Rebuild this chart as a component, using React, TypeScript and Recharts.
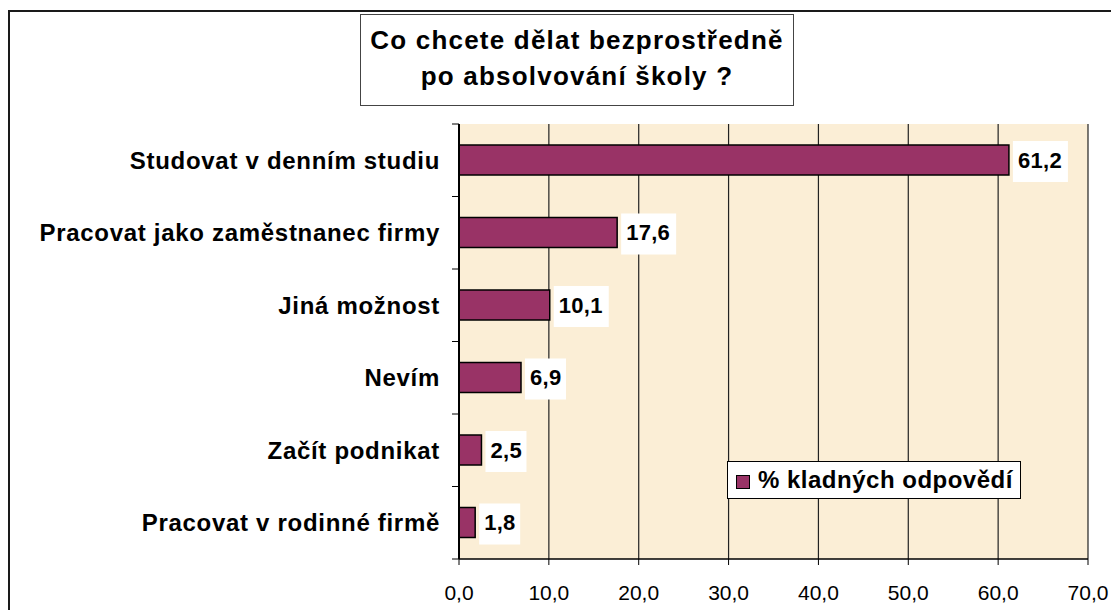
import React from 'react';
import { BarChart, Bar, XAxis, YAxis, CartesianGrid, LabelList, Legend } from 'recharts';

const categories = [
  'Studovat v denním studiu',
  'Pracovat jako zaměstnanec firmy',
  'Jiná možnost',
  'Nevím',
  'Začít podnikat',
  'Pracovat v rodinné firmě',
];
const percentValues = [61.2, 17.6, 10.1, 6.9, 2.5, 1.8];
const xTicks = [0, 10, 20, 30, 40, 50, 60, 70];
const seriesName = '% kladných odpovědí';
const titleLines = ['Co chcete dělat bezprostředně', 'po absolvování školy ?'];

const FONT = '"Liberation Sans", Arial, sans-serif';
const BAR_COLOR = '#993366';

const data = categories.map((name, i) => ({ name, value: percentValues[i] }));

const fmt = (v: number) => Number(v).toFixed(1).replace('.', ',');

// category label + tick marks at the band borders (like Excel)
function CategoryTick(props: any) {
  const { x, y, payload, index, visibleTicksCount } = props;
  const axisX = x + 19;
  const half = payload.offset ?? 0;
  return (
    <g>
      <line x1={axisX - 7} x2={axisX} y1={y - half} y2={y - half} stroke="#000" />
      {index === visibleTicksCount - 1 && (
        <line x1={axisX - 7} x2={axisX} y1={y + half} y2={y + half} stroke="#000" />
      )}
      <text
        x={x}
        y={y}
        dy={8.5}
        textAnchor="end"
        fill="#000"
        style={{ fontFamily: FONT, fontSize: 24, fontWeight: 'bold', letterSpacing: 0.7 }}
      >
        {payload.value}
      </text>
    </g>
  );
}

function ValueLabel(props: any) {
  const { x, y, width, height, value } = props;
  const text = fmt(value);
  const bx = Number(x) + Number(width) + 4;
  const bw = text.length * 14 - 1;
  return (
    <g>
      <rect x={bx} y={Number(y) - 4} width={bw} height={Number(height) + 11} fill="#fff" />
      <text
        x={bx + 5}
        y={Number(y) + Number(height) / 2 + 7.5}
        fill="#000"
        style={{ fontFamily: FONT, fontSize: 22, fontWeight: 'bold', letterSpacing: 0.3 }}
      >
        {text}
      </text>
    </g>
  );
}

function LegendBox(props: any) {
  const item = props.payload && props.payload[0];
  return (
    <div
      style={{
        position: 'relative',
        width: 294,
        height: 38,
        boxSizing: 'border-box',
        border: '1px solid #000',
        background: '#fff',
        fontFamily: FONT,
      }}
    >
      <div
        style={{
          position: 'absolute',
          left: 8,
          top: 13,
          width: 14,
          height: 14,
          boxSizing: 'border-box',
          background: BAR_COLOR,
          border: '1.5px solid #000',
        }}
      />
      <div
        style={{
          position: 'absolute',
          left: 30,
          top: 3,
          fontSize: 24,
          fontWeight: 'bold',
          lineHeight: '30px',
          letterSpacing: 0.5,
          color: '#000',
          whiteSpace: 'nowrap',
        }}
      >
        {item ? item.value : seriesName}
      </div>
    </div>
  );
}

export default function App() {
  return (
    <div
      style={{
        position: 'absolute',
        left: 0,
        top: 0,
        width: 1111,
        height: 610,
        overflow: 'hidden',
        background: '#fff',
        fontFamily: FONT,
      }}
    >
      {/* outer chart frame, runs off the right and bottom edges */}
      <div
        style={{
          position: 'absolute',
          left: 8,
          top: 10,
          width: 1200,
          height: 700,
          borderLeft: '2px solid #1a1a1a',
          borderTop: '2px solid #1a1a1a',
        }}
      />

      <div style={{ position: 'absolute', left: 0, top: 0 }}>
        <BarChart
          width={1111}
          height={610}
          data={data}
          layout="vertical"
          margin={{ top: 124, right: 23, bottom: 0, left: 0 }}
        >
          <CartesianGrid horizontal={false} stroke="#222" strokeWidth={1.2} fill="#fbeed6" />
          <XAxis
            type="number"
            domain={[0, 70]}
            ticks={xTicks}
            tickFormatter={fmt}
            height={51}
            tickSize={6}
            tickMargin={20}
            axisLine={{ stroke: '#000', strokeWidth: 1.5 }}
            tickLine={{ stroke: '#000' }}
            tick={{ fill: '#000', fontSize: 21, fontFamily: FONT }}
            interval={0}
          />
          <XAxis
            xAxisId="top"
            orientation="top"
            type="number"
            domain={[0, 70]}
            height={0}
            tick={false}
            tickLine={false}
            axisLine={{ stroke: '#9a9a9a', strokeWidth: 2 }}
          />
          <YAxis
            type="category"
            dataKey="name"
            width={459}
            tickSize={7}
            tickMargin={12}
            tickLine={false}
            axisLine={{ stroke: '#000', strokeWidth: 2 }}
            tick={<CategoryTick />}
            interval={0}
          />
          <YAxis
            yAxisId="right"
            orientation="right"
            type="category"
            dataKey="name"
            width={0}
            tick={false}
            tickLine={false}
            axisLine={{ stroke: '#9a9a9a', strokeWidth: 2 }}
          />
          <Legend
            verticalAlign="middle"
            align="center"
            content={<LegendBox />}
            wrapperStyle={{ left: 727, top: 461, width: 294, height: 38 }}
          />
          <Bar
            dataKey="value"
            name={seriesName}
            fill={BAR_COLOR}
            stroke="#000"
            strokeWidth={1.5}
            barSize={30}
            isAnimationActive={false}
          >
            <LabelList dataKey="value" content={<ValueLabel />} />
          </Bar>
        </BarChart>
      </div>

      {/* title box */}
      <div
        style={{
          position: 'absolute',
          left: 360,
          top: 14,
          width: 434,
          height: 92,
          boxSizing: 'border-box',
          border: '1px solid #444',
          background: '#fff',
          paddingTop: 7,
          textAlign: 'center',
          fontSize: 26,
          fontWeight: 'bold',
          lineHeight: '36px',
          letterSpacing: 1.2,
          color: '#000',
        }}
      >
        {titleLines.map((t) => (
          <div key={t}>{t}</div>
        ))}
      </div>
    </div>
  );
}
